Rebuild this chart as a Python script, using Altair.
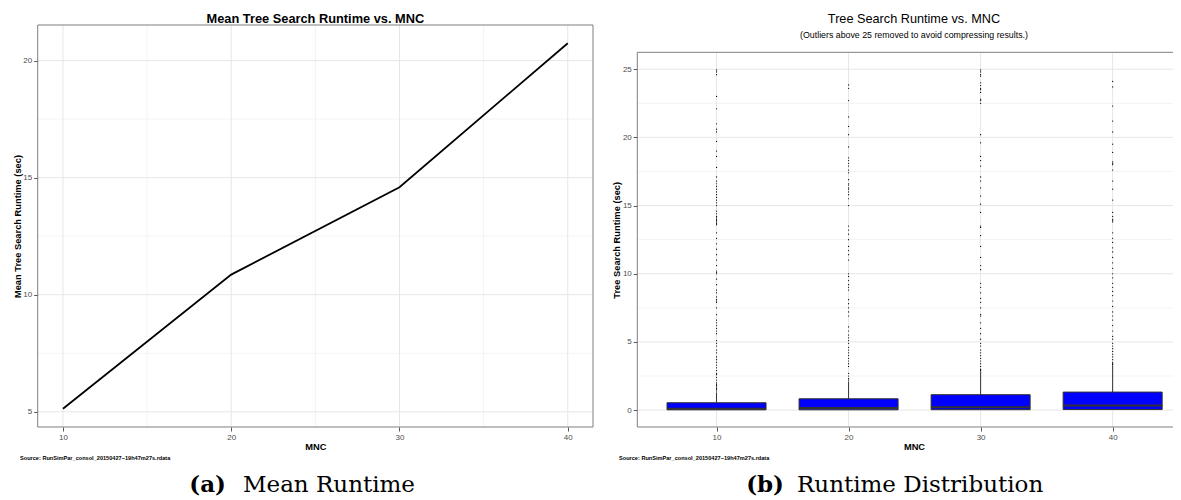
import altair as alt
import pandas as pd

# ---------------- data ----------------
mnc = [10, 20, 30, 40]
mean_runtime = [5.13, 10.86, 14.59, 20.74]

box_q1 = [0.02, 0.02, 0.03, 0.04]
box_median = [0.10, 0.15, 0.20, 0.34]
box_q3 = [0.54, 0.83, 1.13, 1.32]
box_whisker = [1.30, 2.10, 2.85, 3.30]

outliers_10 = [24.95, 24.8, 24.6, 23.0, 22.1, 21.0, 20.6, 20.4, 19.7, 19.0, 18.6, 17.8, 17.1,
               16.8, 16.6, 16.4, 16.2, 16.0, 15.8, 15.6, 15.4, 15.2, 15.0, 14.6, 14.4, 14.2,
               14.1, 14.0, 13.9, 13.8, 13.7, 13.6, 13.0, 12.6, 12.2, 11.8, 11.4, 11.0, 10.6,
               10.2, 10.1, 10.0, 9.6, 9.2, 8.8, 8.6, 8.3, 8.1, 8.0, 7.9, 7.5, 7.0, 6.6, 6.4,
               6.2, 6.0, 5.8, 5.6, 5.1, 4.9, 4.7, 4.4, 4.2, 3.9, 3.7, 3.5, 3.3, 3.1, 2.9, 2.7,
               2.6, 2.4, 2.2, 2.0, 1.9, 1.8, 1.7, 1.6, 1.5, 1.4]
outliers_20 = [23.85, 23.6, 22.7, 21.5, 20.8, 20.2, 19.3, 18.5, 18.3, 18.1, 17.9, 17.6, 17.4,
               16.9, 16.6, 16.5, 16.3, 16.2, 16.0, 15.8, 15.5, 15.0, 13.5, 13.2, 12.9, 12.5,
               12.0, 11.7, 11.4, 11.0, 10.0, 9.8, 9.5, 9.2, 9.0, 8.8, 8.1, 7.8, 7.5, 7.2, 6.9,
               6.1, 5.8, 5.5, 5.3, 5.1, 4.9, 4.6, 4.4, 4.2, 4.0, 3.8, 3.6, 3.4, 3.2, 2.7, 2.5,
               2.3, 2.2]
outliers_30 = [24.95, 24.8, 24.6, 24.5, 24.0, 23.8, 23.6, 23.5, 23.3, 22.8, 22.7, 22.5, 20.2,
               19.6, 18.6, 18.3, 17.9, 17.1, 16.8, 16.3, 15.7, 15.1, 14.5, 13.5, 13.4, 12.8,
               12.0, 11.2, 10.6, 10.3, 9.3, 9.0, 8.6, 8.2, 7.9, 7.5, 7.0, 6.9, 6.4, 6.0, 5.6,
               5.2, 4.9, 4.7, 4.4, 4.2, 4.0, 3.8, 3.6, 3.4, 3.2, 3.0, 2.95, 2.9]
outliers_40 = [24.1, 23.7, 22.3, 21.2, 20.4, 19.5, 18.9, 18.2, 18.1, 18.0, 17.6, 16.8, 16.2,
               15.4, 14.5, 14.2, 14.0, 13.9, 13.8, 13.0, 12.6, 12.3, 11.9, 11.6, 11.2, 10.8,
               10.4, 10.0, 9.7, 9.3, 9.0, 8.7, 8.4, 8.0, 7.6, 7.2, 6.9, 6.6, 6.2, 5.8, 5.4,
               5.2, 4.9, 4.7, 4.5, 4.3, 4.1, 3.9, 3.7, 3.5, 3.4, 3.35]

left_x_major = [10, 20, 30, 40]
left_x_minor = [15, 25, 35]
left_y_major = [5, 10, 15, 20]
left_y_minor = [7.5, 12.5, 17.5]
right_x_major = [10, 20, 30, 40]
right_y_major = [0, 5, 10, 15, 20, 25]
right_y_minor = [2.5, 7.5, 12.5, 17.5, 22.5]

# ---------------- layout ----------------
W, H = 1165, 419
LX_DOM, LX_RNG = [8.5, 41.5], [29.7, 585]
LY_DOM, LY_RNG = [4.35, 21.52], [H, 17]
RX_DOM, RX_RNG = [4.0, 44.57], [629.3, 1165]
RY_DOM, RY_RNG = [-1.24, 26.24], [H, 44.3]
BOX_HALF = 3.75

FONT = "Liberation Sans"
MAJOR = "#e6e6e6"
MINOR = "#f3f3f3"
BORDER = "#7f7f7f"
DARK = "#333333"

xsL = alt.Scale(domain=LX_DOM, range=LX_RNG, nice=False, zero=False)
ysL = alt.Scale(domain=LY_DOM, range=LY_RNG, nice=False, zero=False)
xsR = alt.Scale(domain=RX_DOM, range=RX_RNG, nice=False, zero=False)
ysR = alt.Scale(domain=RY_DOM, range=RY_RNG, nice=False, zero=False)

axis_common = dict(grid=False, domain=False, ticks=True, tickSize=4, tickColor="#555555",
                   tickWidth=1, labelColor="#4d4d4d", labelFontSize=8, labelFont=FONT,
                   labelFlush=False, labelPadding=2, format="d", titleFont=FONT,
                   titleFontSize=9.3, titleFontWeight="bold", titleColor="black",
                   titleBaseline="middle", titleAlign="center")

axLx = alt.Axis(orient="bottom", values=left_x_major, title="MNC", titleX=307.4, titleY=19,
                **axis_common)
axLy = alt.Axis(orient="left", offset=-29.7, values=left_y_major,
                title="Mean Tree Search Runtime (sec)", titleAngle=270, titleX=-20.7,
                titleY=218, **axis_common)
axRx = alt.Axis(orient="bottom", values=right_x_major, title="MNC", titleX=906, titleY=19,
                **axis_common)
axRy = alt.Axis(orient="left", offset=-629.3, values=right_y_major,
                title="Tree Search Runtime (sec)", titleAngle=270, titleX=-21.3,
                titleY=231.8, **axis_common)

one = pd.DataFrame({"k": [0]})


def vgrid(vals, color, xs, ys, ydom, ax, ay):
    return alt.Chart(pd.DataFrame({"v": vals})).mark_rule(color=color, strokeWidth=1).encode(
        x=alt.X("v:Q", scale=xs, axis=ax),
        y=alt.YDatum(ydom[0], scale=ys, axis=ay),
        y2=alt.datum(ydom[1]),
    )


def hgrid(vals, color, xs, ys, xdom, ax, ay):
    return alt.Chart(pd.DataFrame({"v": vals})).mark_rule(color=color, strokeWidth=1).encode(
        y=alt.Y("v:Q", scale=ys, axis=ay),
        x=alt.XDatum(xdom[0], scale=xs, axis=ax),
        x2=alt.datum(xdom[1]),
    )


# ---------------- left panel ----------------
left_border = alt.Chart(one).mark_rect(fillOpacity=0, stroke=BORDER, strokeWidth=1).encode(
    x=alt.XDatum(LX_DOM[0], scale=xsL, axis=axLx), x2=alt.datum(LX_DOM[1]),
    y=alt.YDatum(LY_DOM[0], scale=ysL, axis=axLy), y2=alt.datum(LY_DOM[1]),
)

left_line = alt.Chart(pd.DataFrame({"MNC": mnc, "mean": mean_runtime})).mark_line(
    color="black", strokeWidth=1.8
).encode(
    x=alt.X("MNC:Q", scale=xsL, axis=axLx),
    y=alt.Y("mean:Q", scale=ysL, axis=axLy),
)

left = alt.layer(
    vgrid(left_x_minor, MINOR, xsL, ysL, LY_DOM, axLx, axLy),
    hgrid(left_y_minor, MINOR, xsL, ysL, LX_DOM, axLx, axLy),
    vgrid(left_x_major, MAJOR, xsL, ysL, LY_DOM, axLx, axLy),
    hgrid(left_y_major, MAJOR, xsL, ysL, LX_DOM, axLx, axLy),
    left_border,
    left_line,
)

# ---------------- right panel ----------------
box_df = pd.DataFrame({"MNC": mnc, "q1": box_q1, "median": box_median,
                       "q3": box_q3, "whisker": box_whisker})
out_df = pd.DataFrame({
    "MNC": [10] * len(outliers_10) + [20] * len(outliers_20) + [30] * len(outliers_30) + [40] * len(outliers_40),
    "value": outliers_10 + outliers_20 + outliers_30 + outliers_40,
})

base_box = alt.Chart(box_df).transform_calculate(
    lo=f"datum.MNC - {BOX_HALF}", hi=f"datum.MNC + {BOX_HALF}"
)


def rborder_h(yval):
    return alt.Chart(one).mark_rule(color=BORDER, strokeWidth=1).encode(
        x=alt.XDatum(RX_DOM[0], scale=xsR, axis=axRx), x2=alt.datum(RX_DOM[1]),
        y=alt.YDatum(yval, scale=ysR, axis=axRy))


right_border = alt.layer(
    rborder_h(RY_DOM[1]),
    rborder_h(RY_DOM[0]),
    alt.Chart(one).mark_rule(color=BORDER, strokeWidth=1).encode(
        x=alt.XDatum(RX_DOM[0], scale=xsR, axis=axRx),
        y=alt.YDatum(RY_DOM[0], scale=ysR, axis=axRy), y2=alt.datum(RY_DOM[1])),
)

whisker = base_box.mark_rule(color=DARK, strokeWidth=1).encode(
    x=alt.X("MNC:Q", scale=xsR, axis=axRx),
    y=alt.Y("q3:Q", scale=ysR, axis=axRy),
    y2="whisker:Q",
)
boxes = base_box.mark_rect(fill="#0000ff", stroke=DARK, strokeWidth=1).encode(
    x=alt.X("lo:Q", scale=xsR, axis=axRx), x2="hi:Q",
    y=alt.Y("q1:Q", scale=ysR, axis=axRy), y2="q3:Q",
)
medians = base_box.mark_rule(color=DARK, strokeWidth=2).encode(
    x=alt.X("lo:Q", scale=xsR, axis=axRx), x2="hi:Q",
    y=alt.Y("median:Q", scale=ysR, axis=axRy),
)
points = alt.Chart(out_df).mark_circle(size=1.5, color="black", opacity=1).encode(
    x=alt.X("MNC:Q", scale=xsR, axis=axRx),
    y=alt.Y("value:Q", scale=ysR, axis=axRy),
)

right = alt.layer(
    hgrid(right_y_minor, MINOR, xsR, ysR, RX_DOM, axRx, axRy),
    vgrid(right_x_major, MAJOR, xsR, ysR, RY_DOM, axRx, axRy),
    hgrid(right_y_major, MAJOR, xsR, ysR, RX_DOM, axRx, axRy),
    right_border,
    whisker,
    boxes,
    medians,
    points,
)


# ---------------- annotations ----------------
def label(text, x, y, size, weight="normal", align="center", font=FONT, baseline="middle"):
    return alt.Chart(one).mark_text(
        font=font, fontSize=size, fontWeight=weight, align=align, baseline=baseline, color="black"
    ).encode(x=alt.value(x), y=alt.value(y), text=alt.value(text))


SERIF = "DejaVu Serif"
annotations = [
    label("Mean Tree Search Runtime vs. MNC", 307.4, 11, 12.8, "bold"),
    label("Tree Search Runtime vs. MNC", 906, 11, 12.7),
    label("(Outliers above 25 removed to avoid compressing results.)", 906, 27, 8.8),
    label("Source: RunSimPar_consol_20150427\u221219h47m27s.rdata", 12, 450, 5.6, "bold", "left"),
    label("Source: RunSimPar_consol_20150427\u221219h47m27s.rdata", 611, 450, 5.6, "bold", "left"),
    label("(a)", 218, 484, 23, "bold", "right", SERIF, "alphabetic"),
    label("Mean Runtime", 235, 484, 23, "normal", "left", SERIF, "alphabetic"),
    label("(b)", 776, 484, 23, "bold", "right", SERIF, "alphabetic"),
    label("Runtime Distribution", 789, 484, 23, "normal", "left", SERIF, "alphabetic"),
]

chart = alt.layer(left, right, *annotations).resolve_scale(
    x="independent", y="independent"
).resolve_axis(
    x="independent", y="independent"
).properties(
    width=W, height=H,
    autosize=alt.AutoSizeParams(type="none"),
    padding={"left": 0, "top": 0, "right": 0, "bottom": 73},
    background="white",
).configure(font=FONT).configure_view(stroke=None)

chart.save("out.html", embed_options={"renderer": "svg", "actions": False})
